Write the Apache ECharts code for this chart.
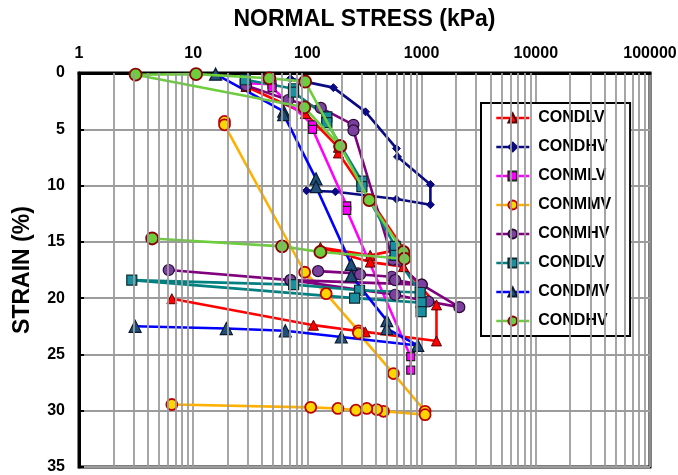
<!DOCTYPE html>
<html>
<head>
<meta charset="utf-8">
<script src="https://cdn.jsdelivr.net/npm/echarts@6/dist/echarts.min.js"></script>
<style>
html,body{margin:0;padding:0;background:#fff;}
#chart{width:678px;height:475px;}
</style>
</head>
<body>
<div id="chart"></div>
<script>
// ---- data: [normal stress (kPa), strain (%)] ----
const condlvRed = [[29,1.2],[96,3.6],[187,6.6],[187,7.1],[693,15.6],[355,16.2],[130,15.5],[355,16.8],[693,17.2],[1350,20.6],[1350,23.8],[321,23.0],[113,22.4],[6.5,20.05]];
const condhvNavy = [[71,0.5],[169,1.3],[323,3.45],[602,6.7],[615,7.45],[1194,9.9],[1194,11.7],[602,11.2],[176,10.55],[98,10.45]];
const conmlv = [[28,0.9],[49,1.0],[49,1.3],[111,4.6],[111,5.0],[221,11.8],[221,12.2],[803,25.2],[803,26.4]];
const conmmv = [[18.8,4.3],[18.8,4.6],[94.6,17.7],[146,19.6],[280,22.9],[280,23.1],[567,26.7],[1073,30.05],[1073,30.35],[464,30.05],[405,29.9],[331,29.8],[266,29.95],[185,29.8],[107,29.7],[6.5,29.45]];
const conmhv = [[29,1.1],[68,2.4],[131,3.1],[253,4.6],[253,5.1],[559,16.6],[1002,18.8],[71,18.4],[6.1,17.5],'-',[124,17.6],[277,17.8],[289,17.9],[548,18.1],[586,18.4],[1002,18.8],[2140,20.8],[1145,20.3],[586,19.7],[71,18.4]];
const condlvTeal = [[28.6,0.6],[75.6,1.4],[75.6,1.7],[148,3.9],[148,4.4],[300,9.6],[300,10.1],[587,15.4],[587,16.2],[971,19.5],[286,19.3],[75.7,18.8],[2.9,18.4],[259,20.0],[990,20.4],[990,21.2]];
const condmv = [[15.7,0.1],[62,3.4],[62,3.7],[119,9.4],[119,10.1],[242,17.0],[242,18.0],[496,22.0],[496,22.7],[925,24.2],[198,23.45],[64,22.9],[19.5,22.7],[3.1,22.5]];
const condhvGreen = [[194,6.5],[94,3.05],[3.13,0.15],[10.6,0.1],[46.4,0.47],[95.6,0.77],[194,6.5],[348,11.3],[693,15.9],[707,16.5],[130,15.9],[60,15.4],[4.37,14.7]];

const legendNames = ['CONDLV','CONDHV','CONMLV','CONMMV','CONMHV','CONDLV ','CONDMV','CONDHV '];
const xMin = 1, xMax = 100000;
const yMin = 0, yMax = 35, yStep = 5;

// minor log gridlines (2..9 in each decade)
const minorX = [];
for (let d = xMin; d < xMax; d *= 10) { for (let k = 2; k <= 9; k++) minorX.push(k * d); }

const FONT = '"Liberation Sans", Arial, Helvetica, sans-serif';
const gridGray = '#9c9c9c';

function mk(name, data, lineColor, symbol, size, fill, border, bw, z) {
  return {
    name: name, type: 'line', data: data, z: z,
    symbol: symbol, symbolSize: size, symbolKeepAspect: true,
    lineStyle: { color: lineColor, width: 2.6, type: 'solid' },
    itemStyle: { color: fill, borderColor: border, borderWidth: bw },
    color: lineColor,
    connectNulls: false,
    emphasis: { disabled: true }
  };
}

const chart = echarts.init(document.getElementById('chart'), null, { renderer: 'canvas' });
chart.setOption({
  animation: false,
  backgroundColor: '#fff',
  grid: { left: 79, right: 28, top: 73, bottom: 8, containLabel: false, outerBoundsMode: 'none',
          show: true, borderColor: '#000', borderWidth: 3, backgroundColor: 'transparent' },
  legend: {
    data: legendNames, orient: 'vertical', left: 481, top: 103,
    backgroundColor: '#fff', borderColor: '#000', borderWidth: 2,
    padding: [7, 18, 7, 14], itemGap: 13, itemWidth: 33, itemHeight: 11,
    lineStyle: { type: 'solid', width: 2.6 },
    symbolKeepAspect: true,
    textStyle: { fontFamily: FONT, fontWeight: 'bold', fontSize: 16, color: '#000', padding: [0, 0, 0, 4] },
    selectedMode: false
  },
  xAxis: {
    type: 'log', logBase: 10, min: xMin, max: xMax, position: 'top',
    name: 'NORMAL STRESS (kPa)', nameLocation: 'middle', nameGap: 42,
    nameTextStyle: { fontFamily: FONT, fontWeight: 'bold', fontSize: 23, color: '#000' },
    axisLine: { show: true, lineStyle: { color: '#000', width: 3 } },
    axisTick: { show: false },
    axisLabel: { fontFamily: FONT, fontWeight: 'bold', fontSize: 16, color: '#000', margin: 11,
      formatter: function (v) { return String(Math.round(v)); } },
    splitLine: { show: true, lineStyle: { color: gridGray, width: 1.8 } }
  },
  yAxis: {
    type: 'value', inverse: true, min: yMin, max: yMax, interval: yStep,
    name: 'STRAIN (%)', nameLocation: 'middle', nameGap: 45, nameRotate: 90,
    nameTextStyle: { fontFamily: FONT, fontWeight: 'bold', fontSize: 23, color: '#000' },
    axisLine: { show: true, lineStyle: { color: '#000', width: 3 } },
    axisTick: { show: true, inside: true, length: 5, lineStyle: { color: '#000', width: 2 } },
    axisLabel: { fontFamily: FONT, fontWeight: 'bold', fontSize: 16, color: '#000', margin: 14 },
    splitLine: { show: true, lineStyle: { color: gridGray, width: 1.8 } }
  },
  series: [
    {
      name: 'grid-minor', type: 'line', data: [], z: 1, silent: true,
      markLine: {
        silent: true, symbol: ['none', 'none'], label: { show: false }, animation: false,
        lineStyle: { color: gridGray, width: 1.8, type: 'solid' },
        emphasis: { disabled: true },
        data: minorX.map(function (v) { return { xAxis: v }; })
      }
    },
    mk(legendNames[0], condlvRed, '#ff0000', 'triangle', 10, '#ff0000', '#5a0000', 1, 3),
    mk(legendNames[1], condhvNavy, '#0a0a82', 'diamond', 8, '#0a0a82', '#0a0a82', 1, 3),
    mk(legendNames[2], conmlv, '#ff00ff', 'rect', 8, '#ff00ff', '#222', 1.2, 3),
    mk(legendNames[3], conmmv, '#ffb000', 'circle', 11, '#ffd500', '#c00000', 1.8, 3),
    mk(legendNames[4], conmhv, '#800080', 'circle', 11, '#7b3f9e', '#2a0a35', 1.2, 3),
    mk(legendNames[5], condlvTeal, '#008080', 'rect', 10, '#1a8fa0', '#0a2a30', 1.2, 3),
    mk(legendNames[6], condmv, '#0000ff', 'triangle', 12, '#1f4e79', '#0a1a30', 1.2, 3),
    mk(legendNames[7], condhvGreen, '#6cce3c', 'circle', 12, '#6cce3c', '#8b0000', 1.8, 4)
  ]
});
</script>
</body>
</html>
